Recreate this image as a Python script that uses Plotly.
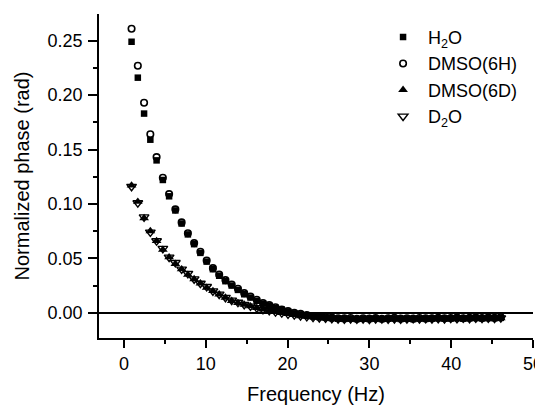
import plotly.graph_objects as go

freq = [0.93, 1.695, 2.46, 3.225, 3.99, 4.755, 5.52, 6.285, 7.05, 7.815,
        8.58, 9.345, 10.11, 10.875, 11.64, 12.405, 13.17, 13.935, 14.70, 15.465,
        16.23, 16.995, 17.76, 18.525, 19.29, 20.055, 20.82, 21.585, 22.35, 23.115,
        23.88, 24.645, 25.41, 26.175, 26.94, 27.705, 28.47, 29.235, 30.00, 30.765,
        31.53, 32.295, 33.06, 33.825, 34.59, 35.355, 36.12, 36.885, 37.65, 38.415,
        39.18, 39.945, 40.71, 41.475, 42.24, 43.005, 43.77, 44.535, 45.30, 46.065]

h2o = [0.249, 0.216, 0.183, 0.159, 0.140, 0.122, 0.107, 0.094, 0.082, 0.072,
       0.063, 0.055, 0.047, 0.040, 0.034, 0.029, 0.025, 0.021, 0.017, 0.014,
       0.011, 0.0085, 0.0065, 0.0045, 0.0028, 0.001, -0.0005, -0.0015, -0.0025, -0.0032,
       -0.004, -0.0045, -0.005, -0.0055, -0.0056, -0.0054, -0.0058, -0.0055, -0.0057, -0.0053,
       -0.0058, -0.0055, -0.0052, -0.0057, -0.0054, -0.0058, -0.0053, -0.0056, -0.0054, -0.0051,
       -0.0055, -0.0053, -0.005, -0.0054, -0.0051, -0.0048, -0.0052, -0.0049, -0.005, -0.0047]

dmso6h = [0.261, 0.227, 0.193, 0.164, 0.143, 0.124, 0.109, 0.095, 0.083, 0.073,
          0.064, 0.056, 0.048, 0.041, 0.035, 0.030, 0.026, 0.022, 0.018, 0.015,
          0.012, 0.009, 0.007, 0.005, 0.003, 0.0015, 0.0, -0.001, -0.002, -0.003,
          -0.0035, -0.004, -0.0045, -0.005, -0.0052, -0.0048, -0.0055, -0.005, -0.0053, -0.0049,
          -0.0055, -0.0051, -0.0047, -0.0053, -0.005, -0.0054, -0.0048, -0.0052, -0.005, -0.0046,
          -0.0051, -0.0049, -0.0045, -0.005, -0.0047, -0.0044, -0.0048, -0.0043, -0.0046, -0.0042]

dmso6d = [0.117, 0.102, 0.087, 0.075, 0.066, 0.058, 0.051, 0.045, 0.040, 0.035,
          0.031, 0.027, 0.023, 0.020, 0.017, 0.014, 0.011, 0.009, 0.0075, 0.006,
          0.0045, 0.003, 0.002, 0.001, 0.0, -0.001, -0.002, -0.003, -0.0035, -0.004,
          -0.0045, -0.005, -0.0055, -0.0057, -0.0055, -0.006, -0.0057, -0.0059, -0.0056, -0.006,
          -0.0057, -0.0054, -0.0059, -0.0056, -0.006, -0.0055, -0.0058, -0.0055, -0.0052, -0.0057,
          -0.0054, -0.0051, -0.0056, -0.0053, -0.005, -0.0054, -0.0051, -0.0052, -0.0049, -0.005]

d2o = [0.116, 0.101, 0.088, 0.074, 0.066, 0.059, 0.051, 0.046, 0.040, 0.036,
       0.031, 0.027, 0.024, 0.020, 0.017, 0.014, 0.0115, 0.0095, 0.0075, 0.006,
       0.0045, 0.003, 0.002, 0.0008, -0.0002, -0.0012, -0.002, -0.0028, -0.0036, -0.0042,
       -0.0046, -0.005, -0.0053, -0.0056, -0.0058, -0.0055, -0.0059, -0.0056, -0.006, -0.0057,
       -0.0055, -0.0058, -0.0055, -0.0059, -0.0056, -0.0053, -0.0057, -0.0054, -0.0056, -0.0053,
       -0.0055, -0.0052, -0.0054, -0.005, -0.0053, -0.005, -0.0052, -0.0049, -0.0051, -0.0048]

FONT = "Liberation Sans, Arial, sans-serif"

fig = go.Figure()
fig.add_trace(go.Scatter(x=freq, y=h2o, mode="markers", name="H<sub>2</sub>O",
                         marker=dict(symbol="square", size=6.5, color="black")))
fig.add_trace(go.Scatter(x=freq, y=dmso6h, mode="markers", name="DMSO(6H)",
                         marker=dict(symbol="circle-open", size=6.5, color="black",
                                     line=dict(width=1.6, color="black"))))
fig.add_trace(go.Scatter(x=freq, y=dmso6d, mode="markers", name="DMSO(6D)",
                         marker=dict(symbol="triangle-up", size=8.5, color="black")))
fig.add_trace(go.Scatter(x=freq, y=d2o, mode="markers", name="D<sub>2</sub>O",
                         marker=dict(symbol="triangle-down-open", size=8.5, color="black",
                                     line=dict(width=1.4, color="black"))))

# page body has an 8px default margin, so the figure is sized 8px smaller
fig.update_layout(
    width=535, height=397,
    margin=dict(l=91, r=10, t=6, b=67, autoexpand=False),
    paper_bgcolor="white", plot_bgcolor="white",
    font=dict(family=FONT, color="black", size=17),
    showlegend=True,
    legend=dict(x=0.643, y=0.985, xanchor="left", yanchor="top",
                font=dict(size=18, family=FONT), bgcolor="rgba(0,0,0,0)",
                tracegroupgap=0, itemwidth=40),
    xaxis=dict(range=[-3.05, 50], tickvals=[0, 10, 20, 30, 40, 50], automargin=False,
               ticklabeloverflow="allow",
               showline=True, linecolor="black", linewidth=1.8, mirror=False,
               ticks="outside", ticklen=8, tickwidth=1.5, tickcolor="black",
               minor=dict(ticks="outside", ticklen=4, dtick=5, tick0=0, tickcolor="black", tickwidth=1.5),
               showgrid=False, zeroline=False,
               title=dict(text="Frequency (Hz)", font=dict(size=20), standoff=15),
               tickfont=dict(size=18)),
    yaxis=dict(range=[-0.0232, 0.2745], tickvals=[0, 0.05, 0.10, 0.15, 0.20, 0.25],
               tickformat=".2f", automargin=False,
               showline=True, linecolor="black", linewidth=1.8, mirror=False,
               ticks="outside", ticklen=9, tickwidth=1.5, tickcolor="black",
               minor=dict(ticks="outside", ticklen=4, dtick=0.025, tick0=0, tickcolor="black", tickwidth=1.5),
               showgrid=False, zeroline=True, zerolinecolor="black", zerolinewidth=1.8,
               title=dict(text="Normalized phase (rad)", font=dict(size=20), standoff=12),
               tickfont=dict(size=18), ticklabelstandoff=2),
)

fig.write_html("out.html")
